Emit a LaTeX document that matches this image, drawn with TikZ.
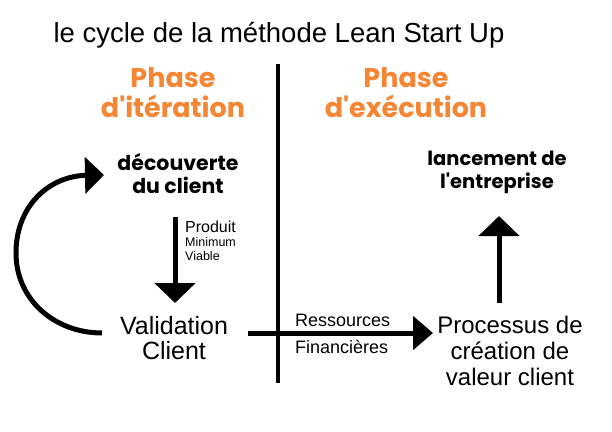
\documentclass[tikz,border=0pt]{standalone}
\usepackage{fontspec}
\setmainfont{Liberation Sans}
\newfontfamily\popb{Poppins}[UprightFont=* Bold]
\usetikzlibrary{arrows.meta}
\definecolor{phaseorange}{HTML}{F58634}
\tikzset{
  plain/.style={font=\fontsize{25}{25}\selectfont, align=center, inner sep=0pt},
  phasetitle/.style={font=\popb\fontsize{27}{30}\selectfont, text=phaseorange, align=center, inner sep=0pt},
  boldlabel/.style={font=\popb\fontsize{19.5}{23}\selectfont, align=center, inner sep=0pt},
  bigarrow/.style={line width=5pt, -{Triangle[length=20pt,width=40pt]}},
  midarrow/.style={line width=5pt, -{Triangle[length=20pt,width=33pt]}},
  divider/.style={line width=4.5pt}
}
\begin{document}
\begin{tikzpicture}[x=1pt,y=-1pt]
\useasboundingbox (0,0) rectangle (612,431);
\fill[white] (0,0) rectangle (612,431);
\node[plain, font=\fontsize{27.5}{28}\selectfont] (title) at (279,35) {le cycle de la méthode Lean Start Up};
\node[phasetitle] (phaseA) at (173,93) {Phase\\d'itération};
\node[phasetitle] (phaseB) at (406,93) {Phase\\d'exécution};
\coordinate (divtop) at (278,64);
\coordinate (divbot) at (278,383);
\draw[divider] (divtop) -- (divbot);
\node[boldlabel, font=\popb\fontsize{20.5}{23}\selectfont] (decouverte) at (178,174) {découverte\\du client};
\node[boldlabel] (lancement) at (497,172) {lancement de\\l'entreprise};
\node[plain] (validation) at (174,338) {Validation\\Client};
\node[plain, font=\fontsize{24}{26}\selectfont] (processus) at (510,351) {Processus de\\création de\\valeur client};
% down arrow
\coordinate (dtop) at (175,217);
\coordinate (dtip) at (175,303);
\draw[bigarrow] (dtop) -- (dtip);
\node[anchor=west, inner sep=0pt, font=\fontsize{16}{16}\selectfont] (produit) at (185,227) {Produit};
\node[anchor=west, inner sep=0pt, font=\fontsize{12.5}{13}\selectfont] (minimum) at (185,242) {Minimum};
\node[anchor=west, inner sep=0pt, font=\fontsize{12.5}{13}\selectfont] (viable) at (185,256) {Viable};
% up arrow
\coordinate (ubot) at (499,303);
\coordinate (utip) at (499,216);
\draw[bigarrow] (ubot) -- (utip);
% horizontal arrow
\coordinate (hstart) at (248,333);
\coordinate (htip) at (433,333);
\draw[midarrow] (hstart) -- (htip);
\node[anchor=west, inner sep=0pt, font=\fontsize{18}{18}\selectfont] (ress) at (295,320) {Ressources};
\node[anchor=west, inner sep=0pt, font=\fontsize{18}{18}\selectfont] (fin) at (295,347) {Financières};
% loop arrow
\coordinate (lstart) at (102,333);
\coordinate (ltip) at (104,175);
\draw[line width=5pt, -{Triangle[length=19pt,width=36pt]}] (lstart) .. controls (55,333) and (16,300) .. (16,253) .. controls (16,205) and (50,176) .. (ltip);
\end{tikzpicture}
\end{document}
